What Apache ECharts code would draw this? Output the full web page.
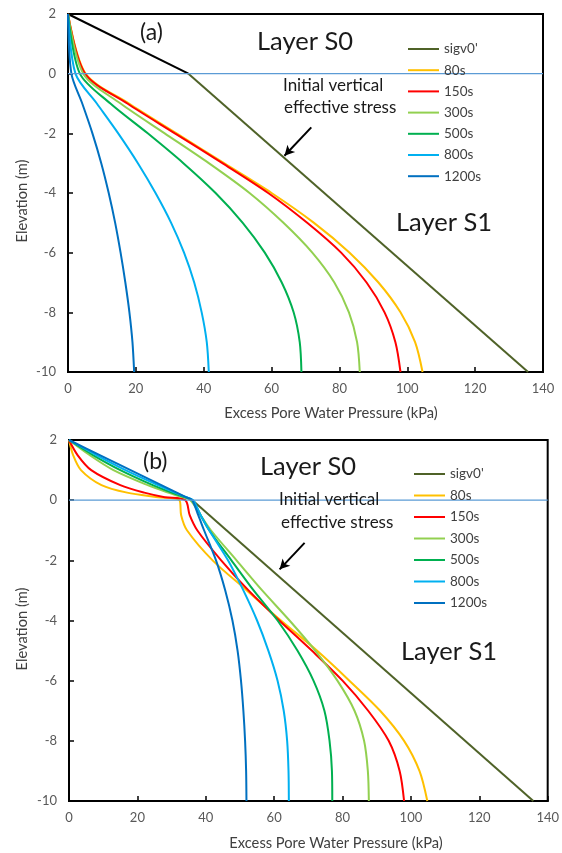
<!DOCTYPE html>
<html>
<head>
<meta charset="utf-8">
<script src="https://cdn.jsdelivr.net/npm/echarts@6/dist/echarts.min.js"></script>
<style>
  html, body { margin: 0; padding: 0; background: #fff; }
  #chart { width: 562px; height: 853px; }
</style>
</head>
<body>
<div id="chart"></div>
<script>
// ---- data (kPa at each elevation, m) ----
var names = ['sigv0\'', '80s', '150s', '300s', '500s', '800s', '1200s'];
var colors = ['#4f6228', '#ffc000', '#ff0000', '#92d050', '#00b050', '#00b0f0', '#0070c0'];

// panel (a)
var elevA = [2, 0, -1, -2, -3, -4, -5, -6, -7, -8, -9, -10];
var a80   = [0, 5.2, 18, 32, 46, 60, 72.5, 83, 91.5, 98, 102.3, 104.5];
var a150  = [0, 5, 17.5, 31.5, 45.5, 59, 70.5, 80.5, 88, 93.3, 96.5, 98];
var a300  = [0, 4.5, 15.5, 28.5, 41.5, 53.5, 63.5, 72, 78.5, 82.8, 85.2, 86];
var a500  = [0, 3.5, 12.5, 23.5, 34, 43.5, 51.5, 58, 63, 66.5, 68.3, 68.8];
var a800  = [0, 2.2, 8.5, 14.8, 20.6, 25.8, 30.4, 34.2, 37.2, 39.4, 40.9, 41.5];
var a1200 = [0, 1, 4.2, 7.2, 9.8, 12, 13.9, 15.5, 16.9, 18.1, 19, 19.5];

// panel (b)
var elevB = [2, 1.5, 1, 0.5, 0.25, 0.1, 0, -0.5, -1, -2, -3, -4, -5, -6, -7, -8, -9, -10];
var b80   = [0, 1.2, 3.5, 9.5, 17, 26, 32.3, 32.8, 34.5, 42, 52, 62, 72.5, 82, 91, 98, 102.5, 104.8];
var b150  = [0, 2.5, 6.5, 15, 22, 28, 34, 35.3, 37.5, 44.5, 52.5, 61.5, 71, 80, 87.5, 93.5, 96.7, 98];
var b300  = [0, 6, 13, 23, 29, 33, 35.5, 38.5, 41.5, 49, 56.5, 64.5, 72, 78.5, 83.5, 86.3, 87.4, 87.7];
var b500  = [0, 7, 15, 24.5, 30, 33.8, 36, 38.5, 41, 47.5, 54, 61, 66.8, 71.5, 74.7, 76.2, 76.9, 77];
var b800  = [0, 8, 16.5, 26, 31, 34.3, 36.3, 38.5, 41, 46.5, 51, 55, 58.3, 61, 62.8, 63.8, 64.2, 64.3];
var b1200 = [0, 9, 18, 27, 31.5, 34.2, 36, 37.8, 39.5, 43, 45.7, 47.8, 49.3, 50.3, 51, 51.5, 51.8, 51.9];

// initial vertical effective stress
var sigElev = [0, -10];
var sigA = [35.5, 135.6];
var sigB = [36.1, 135.8];
var s0Elev = [2, 0];
var s0A = [0, 35.5];
// water table
var wtX = [0, 140];
var wtElev = [0, 0];
// arrow ends [kPa, elev]
var arrowA = [[71.7, -1.8], [63.8, -2.75]];
var arrowB = [[68.9, -1.42], [61.6, -2.3]];

var xTicks = { min: 0, max: 140, interval: 20 };
var yTicks = { min: -10, max: 2, interval: 2 };
var xName = 'Excess Pore Water Pressure (kPa)';
var yName = 'Elevation (m)';

function pairs(xs, ys) {
    return xs.map(function (x, i) { return [x, ys[i]]; });
}

var font = 'Lato, "Open Sans", sans-serif';

function makeAxes(g) {
    var x = {
        type: 'value', gridIndex: g, min: xTicks.min, max: xTicks.max, interval: xTicks.interval,
        axisLine: { onZero: false, lineStyle: { color: '#000', width: 2 } },
        axisTick: { inside: true, length: 5, lineStyle: { color: '#000', width: 1.5 } },
        axisLabel: { fontSize: 13, color: '#595959', margin: 10, fontFamily: font },
        splitLine: { show: false }
    };
    var y = {
        type: 'value', gridIndex: g, min: yTicks.min, max: yTicks.max, interval: yTicks.interval,
        axisLine: { onZero: false, lineStyle: { color: '#000', width: 2 } },
        axisTick: { inside: true, length: 5, lineStyle: { color: '#000', width: 1.5 } },
        axisLabel: { fontSize: 13, color: '#595959', margin: 12, fontFamily: font },
        splitLine: { show: false }
    };
    return [x, y];
}

var axA = makeAxes(0), axB = makeAxes(1);

function line(name, data, g, color, width, smooth) {
    return {
        name: name, type: 'line', xAxisIndex: g, yAxisIndex: g, data: data,
        symbol: 'none', smooth: smooth,
        lineStyle: { color: color, width: width }, itemStyle: { color: color },
        silent: true, animation: false
    };
}

function arrow(ends) {
    return {
        silent: true, symbol: ['none', 'arrow'], symbolSize: [8, 10],
        lineStyle: { color: '#000', width: 2, type: 'solid' }, label: { show: false },
        data: [[{ coord: ends[0] }, { coord: ends[1] }]]
    };
}

var curvesA = [a80, a150, a300, a500, a800, a1200];
var curvesB = [b80, b150, b300, b500, b800, b1200];

var series = [];
// panel a
series.push(line('s0', pairs(s0A, s0Elev), 0, '#000', 2, false));
var sA = line(names[0], pairs(sigA, sigElev), 0, colors[0], 2, false);
sA.markLine = arrow(arrowA);
series.push(sA);
curvesA.forEach(function (c, i) {
    series.push(line(names[i + 1], pairs(c, elevA), 0, colors[i + 1], 2, 0.3));
});
series.push(line('wt', pairs(wtX, wtElev), 0, '#5b9bd5', 1.2, false));
// panel b
var sB = line(names[0], pairs(sigB, sigElev), 1, colors[0], 2, false);
sB.markLine = arrow(arrowB);
series.push(sB);
curvesB.forEach(function (c, i) {
    series.push(line(names[i + 1], pairs(c, elevB), 1, colors[i + 1], 2, 0.3));
});
series.push(line('wt', pairs(wtX, wtElev), 1, '#5b9bd5', 1.2, false));

function legend(left, top, gap, w) {
    return {
        data: names, orient: 'vertical', left: left, top: top, itemGap: gap, padding: 0,
        itemWidth: w, itemHeight: 14, selectedMode: false,
        itemStyle: { opacity: 0 },
        textStyle: { fontSize: 13.5, color: '#404040', fontFamily: font }
    };
}

function txt(x, y, s, size, align, rot) {
    return {
        type: 'text', x: x, y: y, z: 100, rotation: rot || 0,
        style: { text: s, fill: '#1a1a1a', font: size + 'px ' + font, align: align || 'left', verticalAlign: 'middle' }
    };
}

function axisName(x, y, s, rot) {
    var t = txt(x, y, s, 14.7, 'center', rot);
    t.style.fill = '#404040';
    return t;
}

var option = {
    backgroundColor: '#fff',
    animation: false,
    grid: [
        { left: 68, top: 14, width: 475, height: 358, show: true, borderColor: '#000', borderWidth: 2 },
        { left: 69, top: 440, width: 482, height: 361, show: true, borderColor: '#000', borderWidth: 2 }
    ],
    xAxis: [axA[0], axB[0]],
    yAxis: [axA[1], axB[1]],
    legend: [legend(407, 42, 7.2, 31), legend(413, 467, 7.5, 31)],
    graphic: [
        txt(140, 33, '(a)', 23),
        txt(257, 42, 'Layer S0', 25.5),
        txt(283, 86, 'Initial vertical', 17),
        txt(284, 108, 'effective stress', 17),
        txt(396, 223, 'Layer S1', 25.5),
        axisName(331, 413, xName, 0),
        axisName(22, 201, yName, Math.PI / 2),
        txt(143, 462, '(b)', 23),
        txt(260, 467, 'Layer S0', 25.5),
        txt(279, 500, 'Initial vertical', 17),
        txt(281, 523, 'effective stress', 17),
        txt(401, 652, 'Layer S1', 25.5),
        axisName(336, 843, xName, 0),
        axisName(22, 629, yName, Math.PI / 2)
    ],
    series: series
};

var chart = echarts.init(document.getElementById('chart'));
chart.setOption(option);
</script>
</body>
</html>
